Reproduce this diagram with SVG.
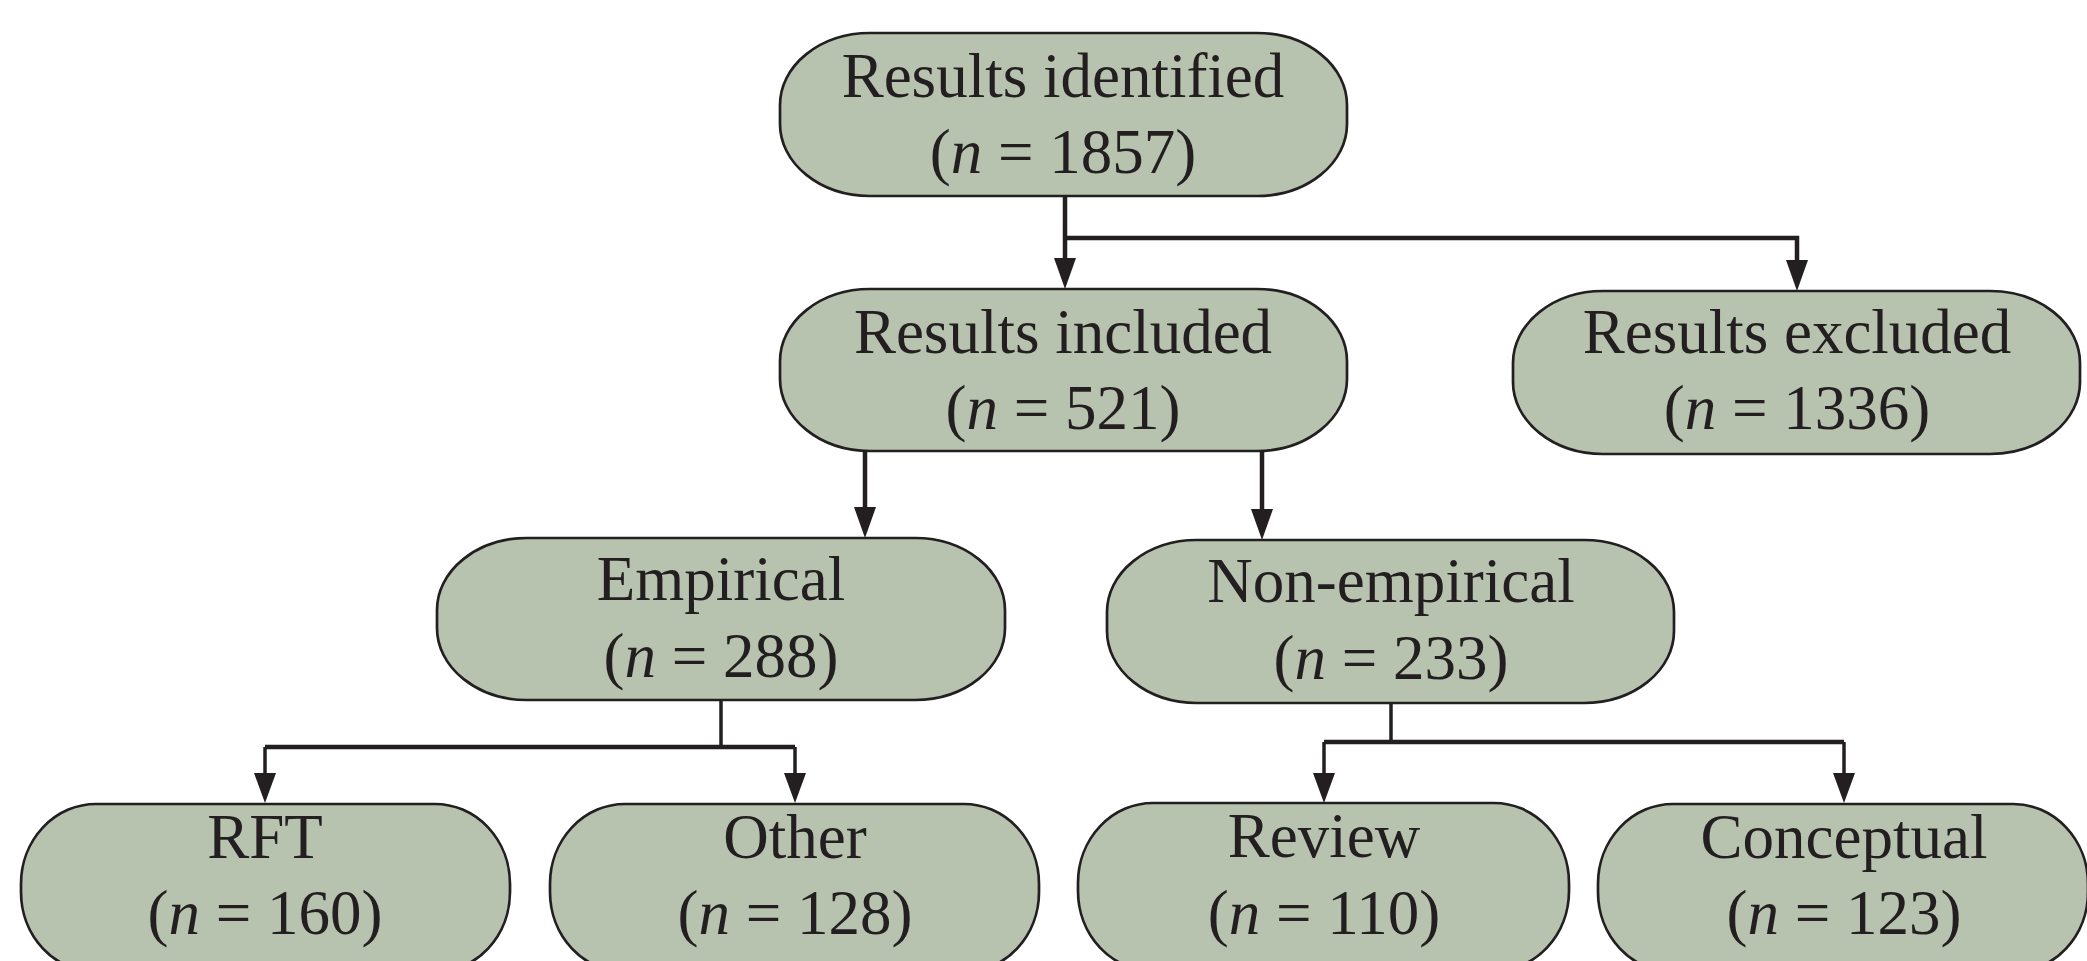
<svg xmlns="http://www.w3.org/2000/svg" width="2087" height="961" viewBox="0 0 2087 961">
<style>
.box{fill:#b7c3af;stroke:#231f20;stroke-width:2.7}
.t{font-family:"Liberation Serif","Times New Roman",serif;font-size:63px;fill:#231f20;text-anchor:middle}
.i{font-style:italic}
.ln{fill:none;stroke:#231f20;stroke-width:4.5}
.st{fill:none;stroke:#231f20;stroke-width:3.5}
.ah{fill:#231f20}
</style>
<rect width="2087" height="961" fill="#ffffff"/>
<g id="connectors">
<path class="ln" d="M1065,196 V258"/>
<path class="ah" d="M1054,258 L1076,258 L1065,289 Z"/>
<path class="ln" d="M1063,238 H1797 V260"/>
<path class="ah" d="M1786,260 L1808,260 L1797,291 Z"/>
<path class="ln" d="M865,451 V508"/>
<path class="ah" d="M854,507 L876,507 L865,538 Z"/>
<path class="ln" d="M1262,451 V510"/>
<path class="ah" d="M1251,509 L1273,509 L1262,540 Z"/>
<path class="st" d="M721,700 V747"/>
<path class="ln" d="M265,747 H795"/>
<path class="st" d="M265,747 V775"/>
<path class="ah" d="M254,773 L276,773 L265,803 Z"/>
<path class="st" d="M795,747 V775"/>
<path class="ah" d="M784,773 L806,773 L795,803 Z"/>
<path class="st" d="M1391,703 V742"/>
<path class="ln" d="M1324,742 H1844"/>
<path class="st" d="M1324,742 V775"/>
<path class="ah" d="M1313,773 L1335,773 L1324,803 Z"/>
<path class="st" d="M1844,742 V775"/>
<path class="ah" d="M1833,773 L1855,773 L1844,803 Z"/>
</g>
<g id="identified">
<rect class="box" x="780" y="33" width="567" height="163" rx="90" ry="72"/>
<text class="t" x="1063" y="97">Results identified</text>
<text class="t" x="1063" y="173">(<tspan class="i">n</tspan> = 1857)</text>
</g>
<g id="included">
<rect class="box" x="780" y="289" width="567" height="162" rx="90" ry="72"/>
<text class="t" x="1063" y="353">Results included</text>
<text class="t" x="1063" y="429">(<tspan class="i">n</tspan> = 521)</text>
</g>
<g id="excluded">
<rect class="box" x="1513" y="291" width="567" height="163" rx="90" ry="72"/>
<text class="t" x="1797" y="353">Results excluded</text>
<text class="t" x="1797" y="429">(<tspan class="i">n</tspan> = 1336)</text>
</g>
<g id="empirical">
<rect class="box" x="437" y="538" width="568" height="162" rx="90" ry="72"/>
<text class="t" x="721" y="600">Empirical</text>
<text class="t" x="721" y="677">(<tspan class="i">n</tspan> = 288)</text>
</g>
<g id="nonempirical">
<rect class="box" x="1107" y="540" width="567" height="163" rx="90" ry="72"/>
<text class="t" x="1391" y="602">Non-empirical</text>
<text class="t" x="1391" y="679">(<tspan class="i">n</tspan> = 233)</text>
</g>
<g id="rft">
<rect class="box" x="21" y="804" width="489" height="168" rx="75" ry="80"/>
<text class="t" x="265" y="858">RFT</text>
<text class="t" x="265" y="934">(<tspan class="i">n</tspan> = 160)</text>
</g>
<g id="other">
<rect class="box" x="550" y="804" width="489" height="168" rx="75" ry="80"/>
<text class="t" x="795" y="858">Other</text>
<text class="t" x="795" y="934">(<tspan class="i">n</tspan> = 128)</text>
</g>
<g id="review">
<rect class="box" x="1078" y="803" width="491" height="168" rx="75" ry="80"/>
<text class="t" x="1324" y="857">Review</text>
<text class="t" x="1324" y="934">(<tspan class="i">n</tspan> = 110)</text>
</g>
<g id="conceptual">
<rect class="box" x="1598" y="804" width="490" height="168" rx="75" ry="80"/>
<text class="t" x="1844" y="858">Conceptual</text>
<text class="t" x="1844" y="934">(<tspan class="i">n</tspan> = 123)</text>
</g>
</svg>
